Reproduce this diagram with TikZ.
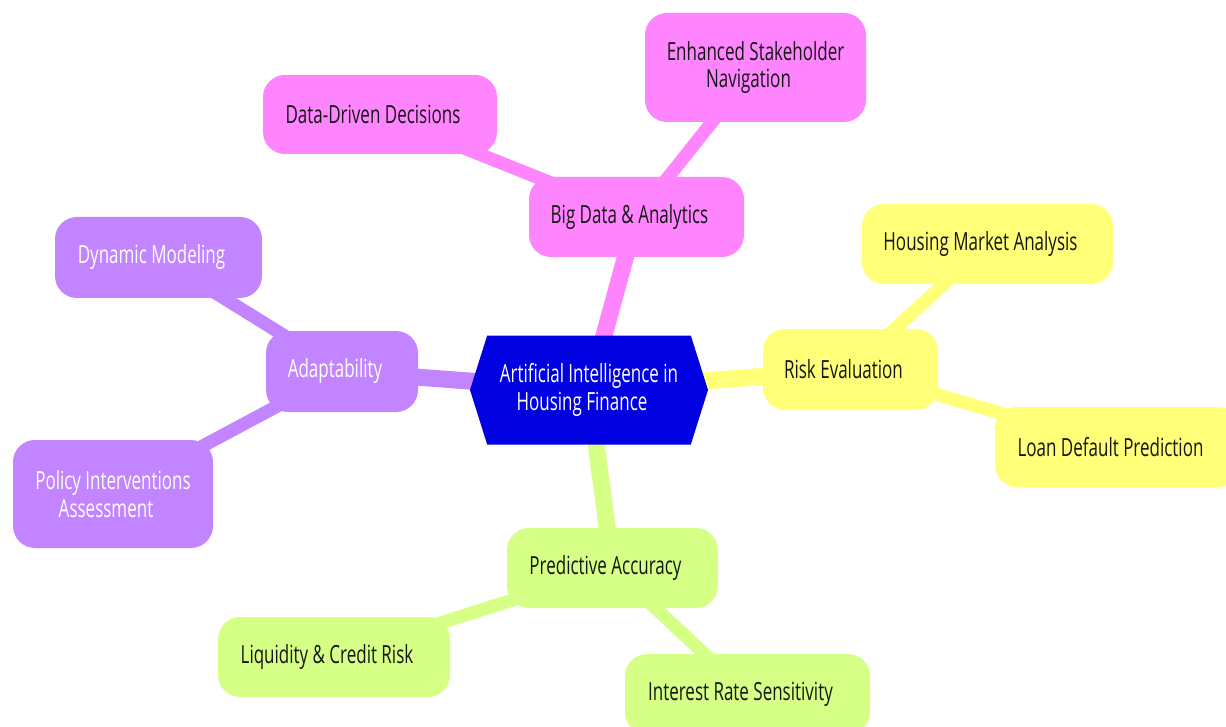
\documentclass[tikz,border=0pt]{standalone}
\usepackage{fontspec}
\setmainfont{Open Sans}[FakeStretch=0.68]
\usetikzlibrary{shapes.symbols,backgrounds}
\definecolor{pinkc}{RGB}{255,133,255}
\definecolor{yellowc}{RGB}{255,255,120}
\definecolor{greenc}{RGB}{214,255,133}
\definecolor{purplec}{RGB}{194,133,255}
\definecolor{bluec}{RGB}{0,0,224}
\definecolor{textc}{RGB}{22,22,22}
\newcommand\mytrail{\hspace*{14pt}}
\begin{document}
\begin{tikzpicture}[x=1pt,y=-1pt,
  lbl/.style={font=\fontsize{25}{27.5}\selectfont, align=center},
  box/.style={lbl, rectangle, rounded corners=22pt, inner sep=0pt, text=textc},
  pinkbox/.style={box, fill=pinkc},
  yellowbox/.style={box, fill=yellowc},
  greenbox/.style={box, fill=greenc},
  purplebox/.style={box, fill=purplec, text=white},
  rootbox/.style={lbl, signal, signal to=east and west, signal pointer angle=145, fill=bluec, text=white, inner sep=0pt},
  edge0/.style={line width=17pt},
  edge1/.style={line width=13pt}]
\useasboundingbox (0,0) rectangle (1226,727);

\node[rootbox, minimum width=238pt, minimum height=109pt] (c) at (589,390) {Artificial Intelligence in\\Housing Finance\mytrail};

\node[pinkbox, minimum width=215pt, minimum height=80pt] (bd) at (636.5,217) {Big Data \& Analytics\mytrail};
\node[pinkbox, minimum width=234pt, minimum height=79pt] (dd) at (380,114.5) {Data-Driven Decisions\mytrail};
\node[pinkbox, minimum width=221pt, minimum height=109pt] (es) at (755.5,67.5) {Enhanced Stakeholder\\Navigation\mytrail};

\node[yellowbox, minimum width=175pt, minimum height=81pt] (re) at (850.5,369.5) {Risk Evaluation\mytrail};
\node[yellowbox, minimum width=251pt, minimum height=80pt] (hm) at (987.5,244) {Housing Market Analysis\mytrail};
\node[yellowbox, minimum width=245pt, minimum height=80pt] (ld) at (1117.5,447) {Loan Default Prediction\mytrail};

\node[purplebox, minimum width=152pt, minimum height=81pt] (ad) at (342,371.5) {Adaptability\mytrail};
\node[purplebox, minimum width=207pt, minimum height=81pt] (dm) at (158.5,257.5) {Dynamic Modeling\mytrail};
\node[purplebox, minimum width=200pt, minimum height=108pt] (pi) at (113,494) {Policy Interventions\\Assessment\mytrail};

\node[greenbox, minimum width=211pt, minimum height=80pt] (pa) at (612.5,568) {Predictive Accuracy\mytrail};
\node[greenbox, minimum width=232pt, minimum height=80pt] (lc) at (334,657) {Liquidity \& Credit Risk\mytrail};
\node[greenbox, minimum width=245pt, minimum height=80pt] (ir) at (747.5,694) {Interest Rate Sensitivity\mytrail};

\begin{pgfonlayer}{background}
  \draw[edge0, pinkc] (c.center) -- (bd.center);
  \draw[edge1, pinkc] (bd.center) -- (dd.center);
  \draw[edge1, pinkc] (bd.center) -- (es.center);
  \draw[edge0, yellowc] (c.center) -- (re.center);
  \draw[edge1, yellowc] (re.center) -- (hm.center);
  \draw[edge1, yellowc] (re.center) -- (ld.center);
  \draw[edge0, purplec] (c.center) -- (ad.center);
  \draw[edge1, purplec] (ad.center) -- (dm.center);
  \draw[edge1, purplec] (ad.center) -- (pi.center);
  \draw[edge0, greenc] (c.center) -- (pa.center);
  \draw[edge1, greenc] (pa.center) -- (lc.center);
  \draw[edge1, greenc] (pa.center) -- (ir.center);
\end{pgfonlayer}
\end{tikzpicture}
\end{document}
